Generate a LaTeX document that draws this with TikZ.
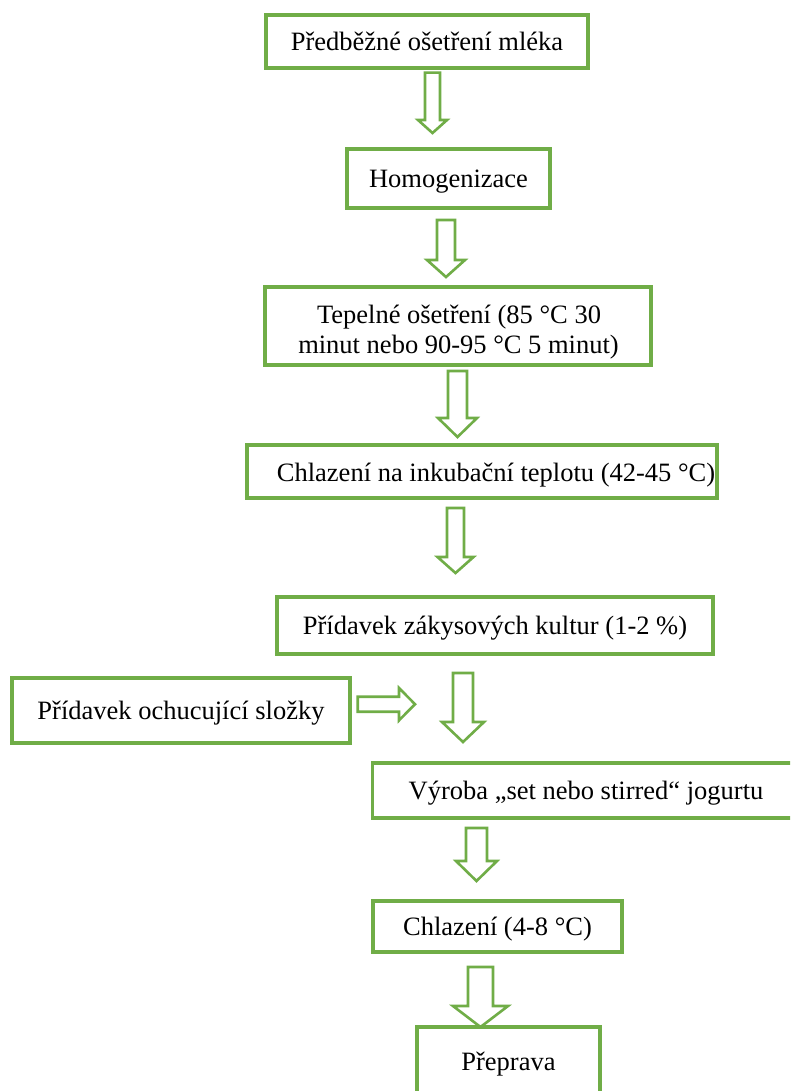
\documentclass[tikz,border=0pt]{standalone}
\usepackage{fontspec}
\setmainfont{Liberation Serif}
\definecolor{boxgreen}{HTML}{70AD47}
\newcommand{\blockdown}[6]{%
  \draw[arrowline] ({#1-#3},#2) -- ({#1+#3},#2) -- ({#1+#3},#4) -- ({#1+#5},#4)
    -- (#1,#6) -- ({#1-#5},#4) -- ({#1-#3},#4) -- cycle;}
\begin{document}
\begin{tikzpicture}[x=1pt,y=-1pt,
  stepbox/.style={draw=boxgreen, line width=3.1pt, rectangle, inner sep=0pt,
    text height=18pt, text depth=0pt, font=\fontsize{26.5}{30}\selectfont},
  plaintext/.style={inner sep=0pt, font=\fontsize{26.5}{30}\selectfont},
  arrowline/.style={draw=boxgreen, line width=2.6pt, line join=miter, fill=white}]
\clip (0,0) rectangle (790,1091);
\fill[white] (0,0) rectangle (790,1091);
\node[stepbox, minimum width=322pt, minimum height=53pt] (b1) at (427,41.5) {Předběžné ošetření mléka};
\node[stepbox, minimum width=203pt, minimum height=59pt] (b2) at (448.5,178.5) {Homogenizace};
\node[stepbox, minimum width=386pt, minimum height=78pt] (b3) at (458,326) {};
\node[plaintext, anchor=base] (b3a) at (459,323) {Tepelné ošetření (85 °C 30};
\node[plaintext, anchor=base] (b3b) at (458.5,353) {minut nebo 90-95 °C 5 minut)};
\node[stepbox, minimum width=470pt, minimum height=53pt] (b4) at (482,471.5) {};
\node[plaintext, anchor=base] (b4t) at (496,481) {Chlazení na inkubační teplotu (42-45 °C)};
\node[stepbox, minimum width=436pt, minimum height=57pt] (b5) at (495,625.5) {Přídavek zákysových kultur (1-2 \%)};
\node[stepbox, minimum width=338pt, minimum height=65pt] (b6) at (181,710.5) {Přídavek ochucující složky};
\node[stepbox, minimum width=427pt, minimum height=55pt] (b7) at (586,790.5) {Výroba „set nebo stirred“ jogurtu};
\node[stepbox, minimum width=249pt, minimum height=51pt] (b8) at (497.5,926.5) {Chlazení (4-8 °C)};
\node[stepbox, minimum width=183pt, minimum height=68pt] (b9) at (508.5,1061) {Přeprava};
\blockdown{432.5}{72.7}{7.5}{120}{14.5}{133}
\blockdown{446}{220}{9}{260}{19}{277}
\blockdown{457.5}{371}{9.5}{418}{19.5}{437}
\blockdown{455.5}{508}{8.5}{557}{18}{573}
\blockdown{463}{673}{10}{722}{21}{742}
\blockdown{476.5}{828}{10.5}{861}{20.5}{881}
\blockdown{480.5}{967}{12.5}{1006}{27.5}{1027}
\draw[arrowline] (357.7,696.7) -- (399,696.7) -- (399,688) -- (415,704.2) -- (399,720.4)
  -- (399,711.7) -- (357.7,711.7) -- cycle;
\end{tikzpicture}
\end{document}
